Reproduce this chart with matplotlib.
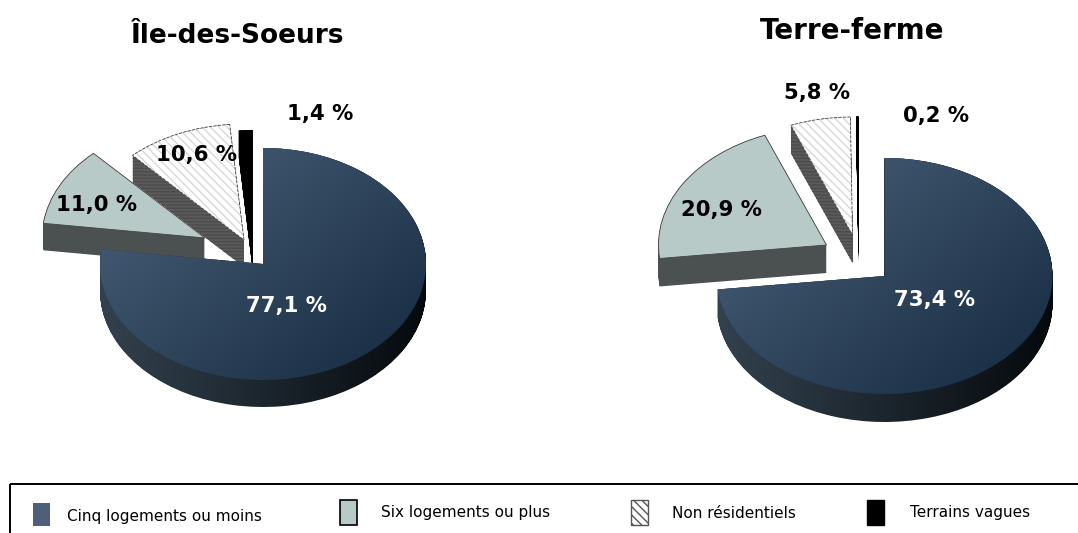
import numpy as np
from matplotlib import pyplot as plt
from matplotlib.colors import to_rgb
from matplotlib.patches import PathPatch, Rectangle
from matplotlib.path import Path

W, H = 1078, 533

categories = ['Cinq logements ou moins', 'Six logements ou plus', 'Non résidentiels', 'Terrains vagues']
iles_values = [77.1, 11.0, 10.6, 1.4]
terre_values = [73.4, 20.9, 5.8, 0.2]
iles_labels = ['77,1 %', '11,0 %', '10,6 %', '1,4 %']
terre_labels = ['73,4 %', '20,9 %', '5,8 %', '0,2 %']
titles = ['Île-des-Soeurs', 'Terre-ferme']

FONT = 'DejaVu Sans'
PALE = '#b8cac8'


def extrude(path, depth):
    # union of the top shape slid down by the pie's thickness
    paths = [Path(path.vertices - [0, d], path.codes) for d in np.linspace(0, depth, 30)]
    return Path.make_compound_path(*paths)


def gradient(ax, clip, colors, zorder, horizontal=False):
    # colors are (start, end), diagonal from top-left unless horizontal
    xx, yy = np.meshgrid(np.linspace(0, 1, 80), np.linspace(0, 1, 80))
    t = xx if horizontal else (xx + yy) / 2
    t = t[..., None]
    c0, c1 = [np.array(to_rgb(c)) for c in colors]
    im = ax.imshow(c0 + (c1 - c0) * t, extent=(-1.02, 1.02, -1.3, 1.02), origin='upper',
                   aspect='auto', zorder=zorder, interpolation='bilinear')
    im.set_clip_path(clip, ax.transData)


def draw_pie(values, cx, cy, rx, ry, depth, offsets):
    ax = fig.add_axes([0, 0, 1, 1])
    wedges, _ = ax.pie(values, startangle=90, counterclock=False,
                       colors=['#3b4f66', PALE, 'white', 'black'])
    d = depth / ry

    # non-main slices, drawn from the back to the front
    side_colors = {1: '#4b5150', 2: '#5a5a5a', 3: 'black'}
    zorders = {3: 2, 2: 3, 1: 4}
    for i in (3, 2, 1):
        w = wedges[i]
        w.set_center((offsets[i][0] / rx, -offsets[i][1] / ry))
        side = extrude(w.get_path(), d)
        ax.add_patch(PathPatch(side, fc=side_colors[i], ec='none', lw=0, zorder=zorders[i]))
        w.set_zorder(zorders[i] + 0.1)
        w.set_linewidth(0)
        if i == 2:
            ax.add_patch(PathPatch(side, fc='none', ec='#4c4c4c', lw=0, hatch='-----', zorder=zorders[i]))
            w.set_edgecolor('#d8d8d8')
            w.set_hatch('\\\\\\\\')
        if i != 3:
            ax.add_patch(PathPatch(w.get_path(), fc='none', ec='#444444', lw=0.6,
                                   ls='--' if i == 2 else '-', zorder=zorders[i] + 0.2))

    # main slice with its gradients
    main = wedges[0]
    main.set_zorder(5)
    side = extrude(main.get_path(), d)
    gradient(ax, side, ('#33424f', '#05090c'), 5.1, horizontal=True)
    gradient(ax, main.get_path(), ('#4d637c', '#10253a'), 5.2)

    ax.set_xlim(-cx / rx, (W - cx) / rx)
    ax.set_ylim((cy - H) / ry, cy / ry)
    ax.set_aspect('auto')
    ax.axis('off')


fig = plt.figure(figsize=(W / 100, H / 100), dpi=100)

draw_pie(iles_values, 263, 264, 163, 116, 27, [(0, 0), (-58, -26), (-19, -24), (-10, -18)])
draw_pie(terre_values, 884.5, 276, 168, 118, 28, [(0, 0), (-58, -31), (-32, -41), (-26, -42)])

# overlay in pixel coordinates for the texts and the legend box
top = fig.add_axes([0, 0, 1, 1])
top.set_xlim(0, W)
top.set_ylim(H, 0)
top.axis('off')
top.patch.set_alpha(0)

top.text(237, 36, titles[0], fontsize=19, fontweight='bold', family=FONT, ha='center', va='center')
top.text(852, 31, titles[1], fontsize=20, fontweight='bold', family=FONT, ha='center', va='center')

label_pos = [(286, 306, 'white'), (97, 205, 'black'), (197, 155, 'black'), (320, 114, 'black')]
for s, (x, y, c) in zip(iles_labels, label_pos):
    top.text(x, y, s, fontsize=15.3, fontweight='bold', family=FONT, color=c, ha='center', va='center', zorder=10)
label_pos = [(934, 300, 'white'), (721, 210, 'black'), (817, 93, 'black'), (936, 116, 'black')]
for s, (x, y, c) in zip(terre_labels, label_pos):
    top.text(x, y, s, fontsize=15.3, fontweight='bold', family=FONT, color=c, ha='center', va='center', zorder=10)

# legend box runs off the right and bottom of the picture
top.add_patch(Rectangle((10, 483.5), W, 80, fc='none', ec='black', lw=1.4))
swatch_x = [33, 340, 631, 867]
text_x = [67, 381, 672, 910]
text_y = [516, 513, 513, 513]
swatch_y = [503, 500, 500, 500]
swatch_h = [23, 25, 25, 25]
styles = [dict(fc='#4e6079', ec='none'),
          dict(fc=PALE, ec='black', lw=1.2),
          dict(fc='white', ec='#555555', lw=1, hatch='\\\\\\\\'),
          dict(fc='black', ec='black')]
for name, sx, tx, ty, sy, sh, st in zip(categories, swatch_x, text_x, text_y, swatch_y, swatch_h, styles):
    top.add_patch(Rectangle((sx, sy), 17, sh, **st))
    top.text(tx, ty, name, fontsize=11, family=FONT, ha='left', va='center')

fig.savefig('out.png', dpi=100)
